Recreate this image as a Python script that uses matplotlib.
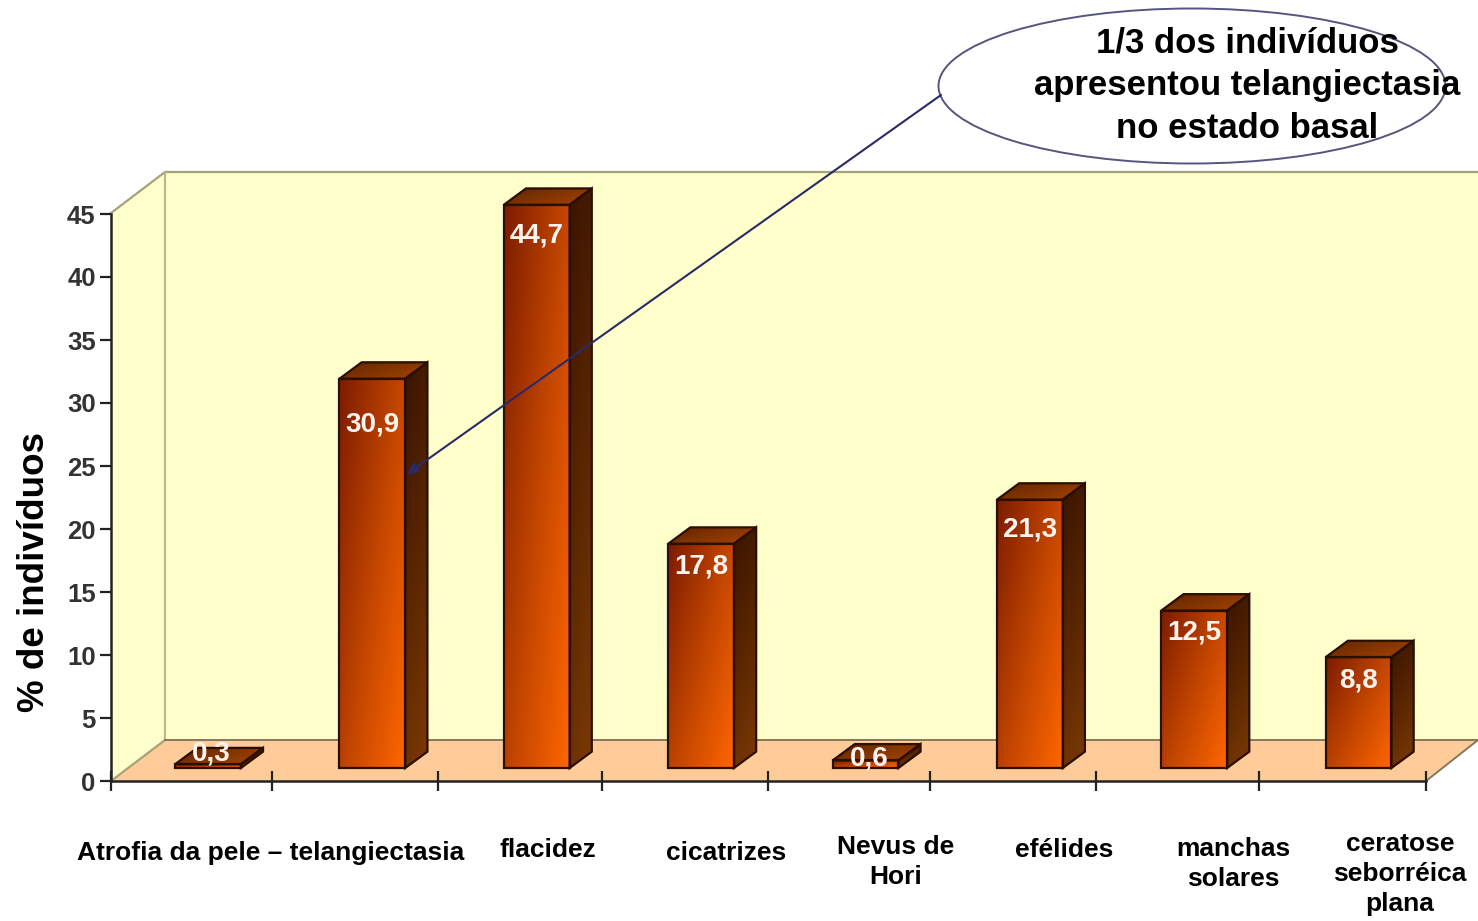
import numpy as np
import matplotlib
matplotlib.use('Agg')
import matplotlib.pyplot as plt
from matplotlib.colors import LinearSegmentedColormap
from matplotlib.patches import Ellipse, Polygon

plt.rcParams['font.family'] = ['Liberation Sans', 'DejaVu Sans']
plt.rcParams['font.weight'] = 'bold'

W, H = 1478, 921

values = [0.3, 30.9, 44.7, 17.8, 0.6, 21.3, 12.5, 8.8]
value_labels = ['0,3', '30,9', '44,7', '17,8', '0,6', '21,3', '12,5', '8,8']
# height of each value label on the value axis
label_heights = [2.2, 28.3, 43.3, 17.0, 1.8, 20.0, 11.8, 8.0]
categories = ['Atrofia da pele – telangiectasia', 'flacidez', 'cicatrizes',
              'Nevus de\nHori', 'efélides', 'manchas\nsolares',
              'ceratose\nseborréica\nplana']
category_x = [271, 548, 726, 896, 1064, 1233, 1400]
category_y = [853, 850, 853, 862, 850, 864, 874]
y_ticks = [0, 5, 10, 15, 20, 25, 30, 35, 40, 45]
x_tick_px = [111, 272, 438, 602, 768, 930, 1096, 1259, 1426]

LEFT, RIGHT, BOTTOM, TOP = 111, 1426, 781, 214
BAR_LEFT = 0.39
BAR_WIDTH = 0.40
BASE = 1.03
DEPTH_X = 0.135
DEPTH_Y = 1.3

front_cmap = LinearSegmentedColormap.from_list('front', ['#7d1c00', '#c04400', '#ff6600'])
side_cmap = LinearSegmentedColormap.from_list('side', ['#3a1400', '#5a2600', '#7c3a06'])
top_cmap = LinearSegmentedColormap.from_list('top', ['#5e2500', '#a84400'])


def shade(ax, pts, cmap, xweight, yweight):
    # gradient image clipped to a polygon, weights pick the direction
    pts = np.array(pts)
    x0, x1 = pts[:, 0].min(), pts[:, 0].max()
    y0, y1 = pts[:, 1].min(), pts[:, 1].max()
    u, v = np.meshgrid(np.linspace(0, 1, 40), np.linspace(0, 1, 80))
    im = ax.imshow(xweight * u + yweight * v, cmap=cmap, vmin=0, vmax=1, aspect='auto',
                   extent=(x0, x1, y0, y1), interpolation='bilinear', zorder=3)
    outline = Polygon(pts, closed=True, facecolor='none', edgecolor='#2a0e00',
                      linewidth=1.6, zorder=4, clip_on=False)
    ax.add_patch(outline)
    im.set_clip_path(outline)
    # the tallest bar's cap rises above the axes box
    im.set_clip_box(ax.figure.bbox)


fig = plt.figure(figsize=(W / 100, H / 100), dpi=100, facecolor='white')

# walls and floor sit behind the bars, in pixel coordinates
back = fig.add_axes([0, 0, 1, 1], zorder=0)
back.set_xlim(0, W)
back.set_ylim(H, 0)
back.axis('off')
back.add_patch(Polygon([(165, 172), (W, 172), (W, 740), (165, 740)], facecolor='#ffffcc',
                       edgecolor='none'))
back.add_patch(Polygon([(111, 213), (165, 172), (165, 740), (111, 781)], facecolor='#ffffcc',
                       edgecolor='none'))
back.add_patch(Polygon([(111, 781), (165, 740), (W, 740), (1426, 781)], facecolor='#ffcc99',
                       edgecolor='none'))
back.plot([111, 165, W], [213, 172, 172], color='#a3a37c', lw=1.6)
back.plot([165, 165], [172, 740], color='#b8b88f', lw=1.6)
back.plot([111, 165], [781, 740], color='#a3a37c', lw=1.6)
back.plot([165, W], [740, 740], color='#85795c', lw=1.4)
back.plot([1426, W], [781, 740], color='#85795c', lw=1.4)

ax = fig.add_axes([LEFT / W, 1 - BOTTOM / H, (RIGHT - LEFT) / W, (BOTTOM - TOP) / H], zorder=1)
ax.patch.set_alpha(0)

for i, val in enumerate(values):
    x0 = i + BAR_LEFT
    x1 = x0 + BAR_WIDTH
    y0 = BASE
    y1 = BASE + val
    dx, dy = DEPTH_X, DEPTH_Y
    shade(ax, [(x0, y1), (x1, y1), (x1 + dx, y1 + dy), (x0 + dx, y1 + dy)], top_cmap, 0.6, 0.4)
    shade(ax, [(x1, y0), (x1 + dx, y0 + dy), (x1 + dx, y1 + dy), (x1, y1)], side_cmap, 0.2, 0.8)
    shade(ax, [(x0, y0), (x1, y0), (x1, y1), (x0, y1)], front_cmap, 0.55, 0.45)
    ax.text(x0 + BAR_WIDTH / 2 + (0.02 if val < 1 else 0), label_heights[i], value_labels[i],
            color='#fff4f0', fontsize=20, ha='center', va='center', zorder=5, clip_on=False)

ax.set_xlim(0, 8)
ax.set_ylim(0, 45)
ax.set_yticks(y_ticks)
ax.set_xticks([(p - LEFT) / (RIGHT - LEFT) * 8 for p in x_tick_px])
ax.set_xticklabels([])
ax.tick_params(axis='y', length=8, width=1.6, color='#222222', labelcolor='#333333',
               labelsize=18.5, pad=3)
ax.tick_params(axis='x', direction='inout', length=14.4, width=1.6, color='#222222')
for name in ('top', 'right'):
    ax.spines[name].set_visible(False)
for name in ('left', 'bottom'):
    ax.spines[name].set_linewidth(1.8)
    ax.spines[name].set_color('#222222')

# callout, axis title and category names go over everything
front = fig.add_axes([0, 0, 1, 1], zorder=2)
front.set_xlim(0, W)
front.set_ylim(H, 0)
front.axis('off')
front.patch.set_alpha(0)

front.annotate('', xy=(407, 474), xytext=(941, 95),
               arrowprops=dict(arrowstyle='-|>', color='#2a2a66', lw=1.5, mutation_scale=17,
                               shrinkA=0, shrinkB=0))
front.add_patch(Ellipse((1192, 86), 507, 155, facecolor='white', edgecolor='#55557f', lw=1.4))
for line, y in zip(['1/3 dos indivíduos', 'apresentou telangiectasia', 'no estado basal'],
                   [43, 86, 129]):
    front.text(1247, y, line, fontsize=25, color='black', ha='center', va='center')

front.text(35, 572, '% de indivíduos', fontsize=26.5, color='black', rotation=90,
           ha='center', va='center')

for name, x, y in zip(categories, category_x, category_y):
    front.text(x, y, name, fontsize=19, color='black', ha='center', va='center',
               linespacing=1.32)

fig.savefig('out.png', dpi=100)
